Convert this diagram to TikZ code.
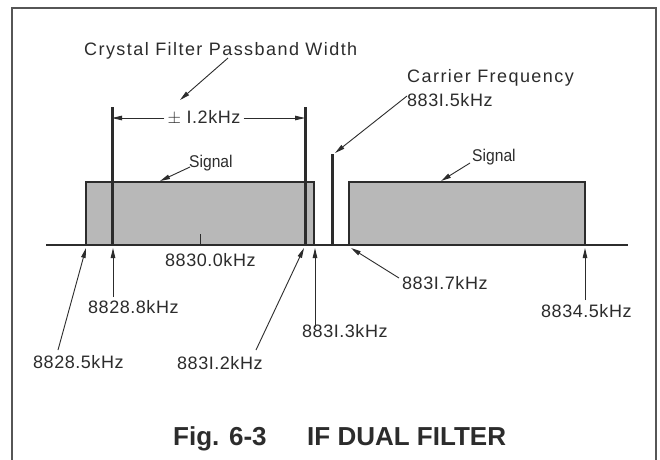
\documentclass[tikz,border=0pt]{standalone}
\usepackage{fontspec}
\usetikzlibrary{arrows.meta}
\newfontfamily\wordfont[LetterSpace=8]{Liberation Sans}
\newfontfamily\numfont[LetterSpace=3]{Liberation Sans}
\newfontfamily\sigfont{Liberation Sans}
\newfontfamily\capfont{Liberation Sans}
\definecolor{ink}{HTML}{2C2C2C}
\definecolor{boxfill}{HTML}{B8B8B8}
\tikzset{
  word/.style={inner sep=0pt, anchor=base west, text=ink, font=\wordfont\fontsize{18}{21}\selectfont},
  num/.style={inner sep=0pt, anchor=base west, text=ink, font=\numfont\fontsize{18}{21}\selectfont},
  sig/.style={inner sep=0pt, anchor=base west, text=ink, font=\sigfont\fontsize{17}{20}\selectfont},
  captext/.style={inner sep=0pt, anchor=base west, text=ink, font=\capfont\bfseries\fontsize{26}{30}\selectfont},
  band/.style={draw=ink, line width=1.8pt, fill=boxfill},
  fline/.style={draw=ink, line width=3pt},
  arr/.style={draw=ink, line width=0.9pt, -{Triangle[length=10pt,width=4.5pt]}},
}
\begin{document}
\begin{tikzpicture}[x=1pt,y=-1pt]
\useasboundingbox (0,0) rectangle (660,459);
\fill[white] (0,0) rectangle (660,459);
% frame
\draw[ink!80, line width=1.5pt] (12,470) -- (12,8) -- (656,8) -- (656,470);
% bands
\path[band] (86,245) rectangle (314,182);
\path[band] (349,245) rectangle (585,182);
% axis
\draw[ink, line width=1.8pt] (46,245) -- (628,245);
% tick
\draw[ink, line width=1.2pt] (200.5,234) -- (200.5,245);
% filter lines
\coordinate (f1t) at (112,107); \coordinate (f1b) at (112,245);
\coordinate (f2t) at (305,107); \coordinate (f2b) at (305,245);
\coordinate (ct) at (332,154); \coordinate (cb) at (332,245);
\draw[fline] (f1t) -- (f1b);
\draw[fline] (f2t) -- (f2b);
\draw[fline] (ct) -- (cb);
% texts
\node[word] (cfp) at (84,55) {Crystal Filter Passband Width};
\node[num, anchor=center, inner xsep=3pt] (pm) at (204,118) {$\pm$ I.2kHz};
\node[sig] (sl) at (189,167) {\scalebox{0.92}[1]{Signal}};
\node[sig] (sr) at (472,161) {\scalebox{0.92}[1]{Signal}};
\node[word] (cf) at (407,82) {Carrier Frequency};
\node[num] (c15) at (407,106) {883I.5kHz};
\node[num] (l300) at (165,266) {8830.0kHz};
\node[num] (l288) at (88,313) {8828.8kHz};
\node[num] (l285) at (33,368) {8828.5kHz};
\node[num] (l312) at (177,369) {883I.2kHz};
\node[num] (l313) at (302,337) {883I.3kHz};
\node[num] (l317) at (402,289) {883I.7kHz};
\node[num] (l345) at (541,317) {8834.5kHz};
\node[captext] (fig) at (173,445) {Fig. 6-3};
\node[captext] (ttl) at (307,445) {IF DUAL FILTER};
% arrows
\coordinate (a1s) at (228,58);  \coordinate (a1e) at (180,100);
\coordinate (a2s) at (190,167); \coordinate (a2e) at (160,181);
\coordinate (a3s) at (470,163); \coordinate (a3e) at (441,181);
\coordinate (a4s) at (407,96);  \coordinate (a4e) at (335,153);
\coordinate (a5s) at (58,350);  \coordinate (a5e) at (86,248);
\coordinate (a6s) at (113,297); \coordinate (a6e) at (113,248);
\coordinate (a7s) at (256,350); \coordinate (a7e) at (304,248);
\coordinate (a8s) at (315,327); \coordinate (a8e) at (315,248);
\coordinate (a9s) at (399,278); \coordinate (a9e) at (351,248);
\coordinate (a10s) at (585,300); \coordinate (a10e) at (585,248);
\draw[arr] (a1s) -- (a1e);
\draw[arr] (a2s) -- (a2e);
\draw[arr] (a3s) -- (a3e);
\draw[arr] (a4s) -- (a4e);
\draw[arr] (a5s) -- (a5e);
\draw[arr] (a6s) -- (a6e);
\draw[arr] (a7s) -- (a7e);
\draw[arr] (a8s) -- (a8e);
\draw[arr] (a9s) -- (a9e);
\draw[arr] (a10s) -- (a10e);
\draw[arr] (pm.west) -- (pm.west -| f1t);
\draw[arr] (pm.east) -- (pm.east -| f2t);
\end{tikzpicture}
\end{document}
